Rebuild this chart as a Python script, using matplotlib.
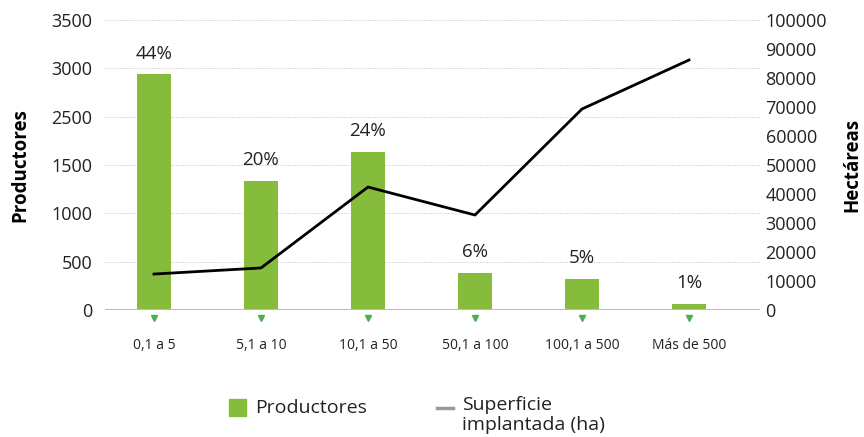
import numpy as np
import matplotlib; matplotlib.use('Agg')
import matplotlib.pyplot as plt
from matplotlib.patches import Rectangle
from matplotlib.lines import Line2D

plt.rcParams['font.family'] = ['Open Sans', 'DejaVu Sans']

cats = ['0,1 a 5', '5,1 a 10', '10,1 a 50', '50,1 a 100', '100,1 a 500', 'Más de 500']
productores = [2440, 1335, 1636, 383, 320, 62]
pct = ['44%', '20%', '24%', '6%', '5%', '1%']
hectareas = [12400, 14500, 42400, 32750, 69300, 86200]
left_ticks = [0, 500, 1000, 1500, 2000, 2500, 3000]
left_labels = ['0', '500', '1000', '1500', '2500', '3000', '3500']
right_ticks = list(range(0, 100001, 10000))

GREEN = '#86bc3c'
fig = plt.figure(figsize=(8.64, 4.37), dpi=100)
ax = fig.add_axes([105/864, 127/437, 655/864, 290/437])
x = np.arange(len(cats))
ax.bar(x, productores, 0.32, color=GREEN, zorder=3)
for xi, v, p in zip(x, productores, pct):
    ax.text(xi, v + 120, p, ha='center', va='bottom', fontsize=13.5, color='#222')
ax.set_xlim(-0.458, 5.664); ax.set_ylim(0, 3000)
ax.set_yticks(left_ticks); ax.set_yticklabels(left_labels, fontsize=13, color='#222')
for t in left_ticks[1:]:
    ax.axhline(t, color='#c4c4c4', lw=0.7, ls=(0, (1, 1.5)), zorder=1)
ax.axhline(0, color='#bbbbbb', lw=1.5, zorder=4)
ax.set_xticks(x); ax.set_xticklabels(cats, fontsize=10, color='#222')
ax.tick_params(axis='x', length=0, pad=20)
ax.tick_params(axis='y', length=0, pad=9)
ax.plot(x, [-80] * len(x), marker='v', ls='none', color='#4caf50', ms=4, clip_on=False, zorder=5)
for s in ax.spines.values(): s.set_visible(False)
ax.set_ylabel('Productores', fontsize=13.5, fontweight='bold', labelpad=15)

ax2 = ax.twinx()
ax2.plot(x, hectareas, color='black', lw=2, zorder=6)
ax2.set_ylim(0, 100000)
ax2.set_yticks(right_ticks); ax2.set_yticklabels([str(t) for t in right_ticks], fontsize=13, color='#222')
ax2.tick_params(axis='y', length=0, pad=4)
for s in ax2.spines.values(): s.set_visible(False)
ax2.set_ylabel('Hectáreas', fontsize=13.5, fontweight='bold', labelpad=11)

# legend drawn by hand (top-aligned entries)
fig.add_artist(Rectangle((229/864, 1 - 416/437), 17/864, 17/437, transform=fig.transFigure, color=GREEN))
fig.text(255/864, 1 - 408/437, 'Productores', fontsize=14, va='center', ha='left', color='#222')
fig.add_artist(Line2D([437/864, 453/864], [1 - 408/437] * 2, transform=fig.transFigure, color='#999999', lw=2.5))
fig.text(462/864, 1 - 396/437, 'Superficie\nimplantada (ha)', fontsize=14, va='top', ha='left',
         color='#222', linespacing=1.15)
fig.savefig('out.png', dpi=100)
